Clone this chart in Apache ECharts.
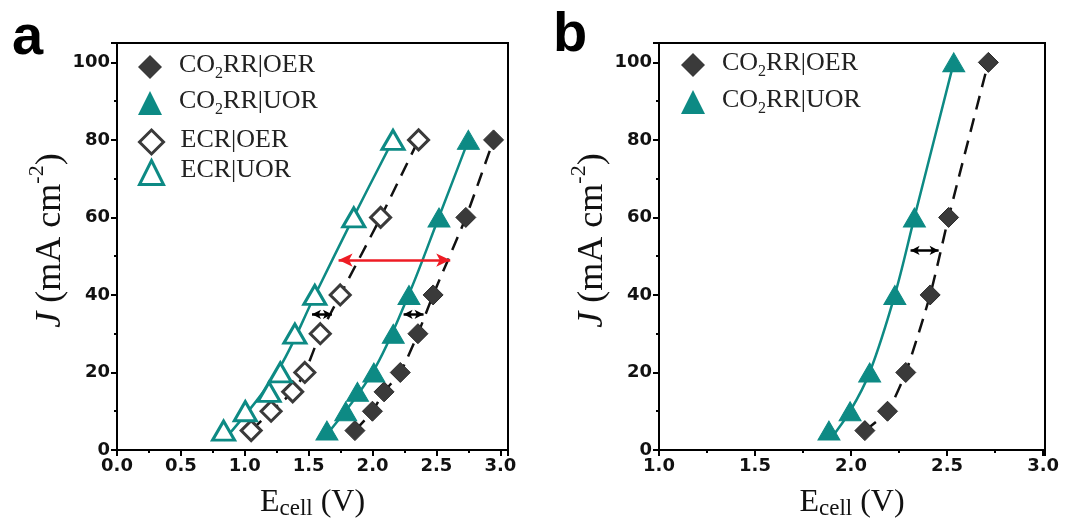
<!DOCTYPE html>
<html><head><meta charset="utf-8">
<script src="https://cdn.jsdelivr.net/npm/echarts@6/dist/echarts.min.js"></script>
<style>html,body{margin:0;padding:0;background:#fff}#c{width:1067px;height:527px}</style>
</head><body><div id="c"></div>
<script>
// ---- data ----
const J_a = [5, 10, 15, 20, 30, 40, 60, 80];
const ecrUor_a = [0.834, 1.004, 1.19, 1.278, 1.392, 1.548, 1.853, 2.16];
const ecrOer_a = [1.05, 1.206, 1.375, 1.47, 1.591, 1.747, 2.063, 2.36];
const co2Uor_a = [1.643, 1.79, 1.882, 2.01, 2.162, 2.285, 2.52, 2.75];
const co2Oer_a = [1.862, 1.999, 2.09, 2.217, 2.355, 2.474, 2.73, 2.947];
// fitted (solid teal) lines as drawn in the figure: [E, J]
const fitEcrUor_a = [[0.835, 2.5], [1.25, 20], [1.55, 40], [1.85, 60], [2.16, 80]];
const fitCo2Uor_a = [[1.617, 3], [2.0, 20], [2.282, 40], [2.518, 60], [2.751, 80]];
const J_b = [5, 10, 20, 40, 60, 100];
const co2Uor_b = [1.885, 1.995, 2.097, 2.228, 2.33, 2.535];
const co2Oer_b = [2.072, 2.19, 2.285, 2.412, 2.508, 2.715];
const fitCo2Uor_b = [[1.896, 3], [1.995, 10], [2.097, 20], [2.228, 40], [2.33, 60], [2.535, 100]];
const redArrow_a = {J: 49, from: 1.734, to: 2.608};
const blackArrows_a = [{J: 35, from: 1.526, to: 1.682}, {J: 35, from: 2.243, to: 2.399}];
const blackArrows_b = [{J: 51.5, from: 2.31, to: 2.456}];
const xTicks_a = [0.0, 0.5, 1.0, 1.5, 2.0, 2.5, 3.0];
const xTicks_b = [1.0, 1.5, 2.0, 2.5, 3.0];
const yTicks = [0, 20, 40, 60, 80, 100];
const names = ['CO2RR|OER', 'CO2RR|UOR', 'ECR|OER', 'ECR|UOR'];

const TEAL = '#0d8a84', DARK = '#3a3a3a', RED = '#ee1c24';
const pts = (xs, ys) => xs.map((x, i) => [x, ys[i]]);

function xAxis(idx, min, max, ticks) {
  return {
    type: 'value', gridIndex: idx, min: min, max: max, interval: 0.5,
    axisLine: {show: true, onZero: false, lineStyle: {color: '#000', width: 2}},
    axisTick: {show: true, inside: false, length: 6, lineStyle: {color: '#000', width: 2}},
    minorTick: {show: true, splitNumber: 2, length: 3, lineStyle: {color: '#000', width: 2}},
    splitLine: {show: false},
    axisLabel: {margin: 7, color: '#111', fontFamily: 'DejaVu Sans', fontWeight: 'bold', fontSize: 18,
      formatter: v => ticks.some(t => Math.abs(t - v) < 1e-6) ? v.toFixed(1) : ''},
    name: '{m|E}{sub|cell}{m| (V)}', nameLocation: 'middle', nameGap: 29,
    nameTextStyle: {fontFamily: 'Liberation Serif', fontSize: 32, color: '#111',
      rich: {
        m: {fontFamily: 'Liberation Serif', fontSize: 32, lineHeight: 34, verticalAlign: 'top', color: '#111'},
        sub: {fontFamily: 'Liberation Serif', fontSize: 23, lineHeight: 23, verticalAlign: 'bottom', padding: [18, 0, 0, 0], color: '#111'}
      }}
  };
}
function yAxis(idx) {
  return {
    type: 'value', gridIndex: idx, min: 0, max: 105, interval: 20,
    axisLine: {show: true, onZero: false, lineStyle: {color: '#000', width: 2}},
    axisTick: {show: true, inside: false, length: 6, lineStyle: {color: '#000', width: 2}},
    minorTick: {show: true, splitNumber: 2, length: 3, lineStyle: {color: '#000', width: 2}},
    splitLine: {show: false},
    axisLabel: {margin: 7, color: '#111', fontFamily: 'DejaVu Sans', fontWeight: 'bold', fontSize: 18,
      formatter: v => yTicks.indexOf(v) >= 0 ? String(v) : ''},
    name: '{it|J}{m| (mA cm}{sup|-2}{m|)}', nameLocation: 'middle', nameGap: 48,
    nameTextStyle: {fontFamily: 'Liberation Serif', fontSize: 36, color: '#111', padding: [0, 0, 0, 12],
      rich: {
        it: {fontFamily: 'Liberation Serif', fontStyle: 'italic', fontSize: 36, lineHeight: 42, verticalAlign: 'bottom', color: '#111'},
        m: {fontFamily: 'Liberation Serif', fontSize: 36, lineHeight: 42, verticalAlign: 'bottom', color: '#111'},
        sup: {fontFamily: 'Liberation Serif', fontSize: 22, lineHeight: 22, verticalAlign: 'top', color: '#111'}
      }}
  };
}
function arrowLines(list, color, size, width) {
  return {
    silent: true, symbol: ['arrow', 'arrow'], symbolSize: size, label: {show: false},
    lineStyle: {color: color, width: width, type: 'solid'},
    emphasis: {disabled: true},
    data: list.map(a => [{coord: [a.from, a.J]}, {coord: [a.to, a.J]}])
  };
}
function fitLine(idx, data, extra) {
  return Object.assign({
    type: 'line', xAxisIndex: idx, yAxisIndex: idx, data: data, smooth: 0.35,
    symbol: 'none', lineStyle: {color: TEAL, width: 2.5}, z: 1, silent: true, animation: false
  }, extra || {});
}
function teal(name, idx, data, open) {
  return {
    type: 'scatter', name: name, xAxisIndex: idx, yAxisIndex: idx, data: data,
    symbol: 'triangle', symbolSize: [22, 19],
    itemStyle: open ? {color: '#fff', borderColor: TEAL, borderWidth: 3, opacity: 1} : {color: TEAL, borderColor: TEAL, borderWidth: 1, opacity: 1},
    z: 3, animation: false
  };
}
function dark(name, idx, data, open) {
  return {
    type: 'line', name: name, xAxisIndex: idx, yAxisIndex: idx, data: data, smooth: 0.2,
    symbol: 'diamond', symbolSize: 20, showAllSymbol: true,
    itemStyle: open ? {color: '#fff', borderColor: DARK, borderWidth: 3, opacity: 1} : {color: DARK, borderColor: '#2a2a2a', borderWidth: 1, opacity: 1},
    lineStyle: {color: '#111', width: 2.5, type: [14, 9]}, z: 2, animation: false
  };
}
const legendIcon = {
  'CO2RR|OER': {icon: 'diamond', itemStyle: {color: DARK, borderWidth: 0, opacity: 1}},
  'CO2RR|UOR': {icon: 'triangle', itemStyle: {color: TEAL, borderWidth: 0, opacity: 1}},
  'ECR|OER': {icon: 'diamond', itemStyle: {color: '#fff', borderColor: DARK, borderWidth: 3, opacity: 1}},
  'ECR|UOR': {icon: 'triangle', itemStyle: {color: '#fff', borderColor: TEAL, borderWidth: 3, opacity: 1}}
};
function legend(left, top, list, gap) {
  return {
    left: left, top: top, orient: 'vertical', itemWidth: 24, itemHeight: 24, itemGap: gap,
    selectedMode: false,
    data: list.map(n => Object.assign({name: n}, legendIcon[n])),
    formatter: n => '{g|}' + (n.indexOf('CO2') === 0 ? '{n|CO}{s|2}{n|' + n.slice(3) + '}' : '{n|' + n + '}'),
    textStyle: {fontFamily: 'Liberation Serif', fontSize: 26, color: '#222',
      rich: {
        g: {width: 12, lineHeight: 30},
        n: {fontFamily: 'Liberation Serif', fontSize: 26, lineHeight: 30, verticalAlign: 'top', color: '#222'},
        s: {fontFamily: 'Liberation Serif', fontSize: 16, lineHeight: 16, verticalAlign: 'bottom', padding: [19, 0, 0, 0], color: '#222'}
      }}
  };
}

const chart = echarts.init(document.getElementById('c'), null, {renderer: 'canvas'});
chart.setOption({
  backgroundColor: '#fff',
  animation: false,
  title: [
    {text: 'a', left: 7, top: 6, textStyle: {fontFamily: 'Liberation Sans', fontWeight: 'bold', fontSize: 56, color: '#000'}},
    {text: 'b', left: 548, top: 3, textStyle: {fontFamily: 'Liberation Sans', fontWeight: 'bold', fontSize: 56, color: '#000'}}
  ],
  grid: [
    {left: 117, top: 43, width: 391, height: 407, show: true, borderColor: '#000', borderWidth: 2, backgroundColor: 'transparent'},
    {left: 659, top: 43, width: 386, height: 407, show: true, borderColor: '#000', borderWidth: 2, backgroundColor: 'transparent'}
  ],
  xAxis: [xAxis(0, 0, 3.06, xTicks_a), xAxis(1, 1.0, 3.01, xTicks_b)],
  yAxis: [yAxis(0), yAxis(1)],
  legend: [
    legend(133, 42, names.slice(0, 2), 1),
    legend(133, 122, names.slice(2, 4), 2),
    legend(676, 40, names.slice(0, 2), 2)
  ],
  series: [
    fitLine(0, fitEcrUor_a, {markLine: arrowLines([redArrow_a], RED, [10, 14], 2.5)}),
    fitLine(0, fitCo2Uor_a, {markLine: arrowLines(blackArrows_a, '#000', [7, 9], 2.5)}),
    fitLine(1, fitCo2Uor_b, {markLine: arrowLines(blackArrows_b, '#000', [7, 9], 2.5)}),
    dark(names[0], 0, pts(co2Oer_a, J_a), false),
    teal(names[1], 0, pts(co2Uor_a, J_a), false),
    dark(names[2], 0, pts(ecrOer_a, J_a), true),
    teal(names[3], 0, pts(ecrUor_a, J_a), true),
    dark(names[0], 1, pts(co2Oer_b, J_b), false),
    teal(names[1], 1, pts(co2Uor_b, J_b), false)
  ]
});
</script></body></html>
